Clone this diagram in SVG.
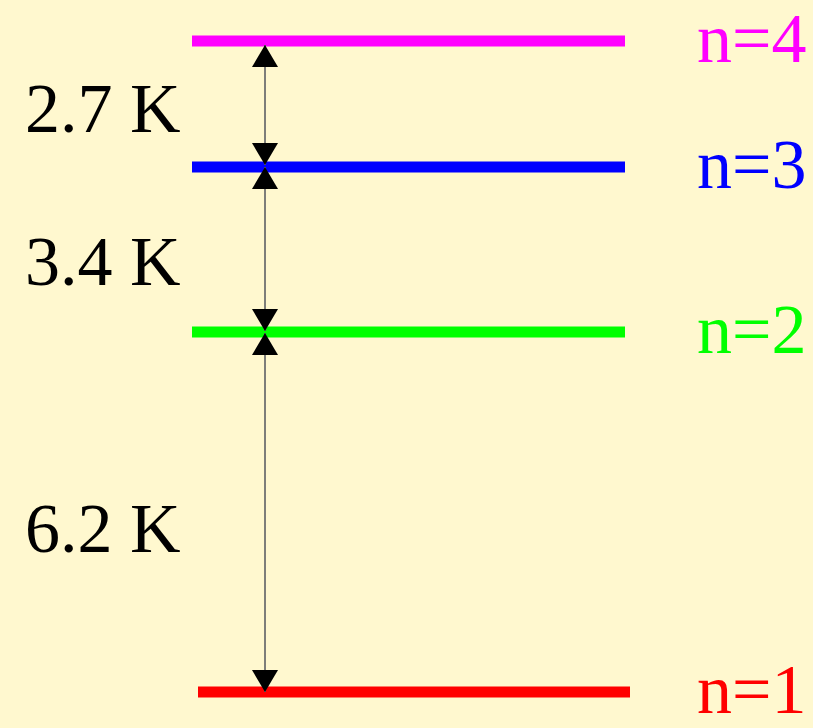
<svg xmlns="http://www.w3.org/2000/svg" width="813" height="728" viewBox="0 0 813 728">
  <style>
    .lvl { stroke-width: 11; fill: none; }
    .lbl { font-family: "Liberation Serif", "Times New Roman", serif; font-size: 70px; }
    .gap { font-family: "Liberation Serif", "Times New Roman", serif; font-size: 70px; fill: #000; }
    .conn { stroke: #707070; stroke-width: 1.8; fill: none; marker-start: url(#ah); marker-end: url(#ah); }
  </style>
  <defs>
    <marker id="ah" viewBox="0 0 22 26" refX="22" refY="13" markerWidth="22" markerHeight="26" markerUnits="userSpaceOnUse" orient="auto-start-reverse">
      <path d="M0,0 L22,13 L0,26 Z" fill="#000"/>
    </marker>
  </defs>
  <rect x="0" y="0" width="813" height="728" fill="#FFF8CF"/>
  <g id="level4">
    <line class="lvl" x1="192" y1="41" x2="625" y2="41" stroke="#FF00FF"/>
    <text class="lbl" x="697" y="62" fill="#FF00FF">n=4</text>
  </g>
  <g id="level3">
    <line class="lvl" x1="192" y1="167" x2="625" y2="167" stroke="#0000FF"/>
    <text class="lbl" x="697" y="188" fill="#0000FF">n=3</text>
  </g>
  <g id="level2">
    <line class="lvl" x1="192" y1="332" x2="625" y2="332" stroke="#00FF00"/>
    <text class="lbl" x="697" y="353" fill="#00FF00">n=2</text>
  </g>
  <g id="level1">
    <line class="lvl" x1="198" y1="692" x2="630" y2="692" stroke="#FF0000"/>
    <text class="lbl" x="697" y="713" fill="#FF0000">n=1</text>
  </g>
  <g id="connectors">
    <line class="conn" x1="265" y1="45" x2="265" y2="165"/>
    <line class="conn" x1="265" y1="167" x2="265" y2="331"/>
    <line class="conn" x1="265" y1="333" x2="265" y2="692"/>
  </g>
  <g id="gap-labels">
    <text class="gap" x="25" y="132">2.7 K</text>
    <text class="gap" x="25" y="285">3.4 K</text>
    <text class="gap" x="25" y="552">6.2 K</text>
  </g>
</svg>
